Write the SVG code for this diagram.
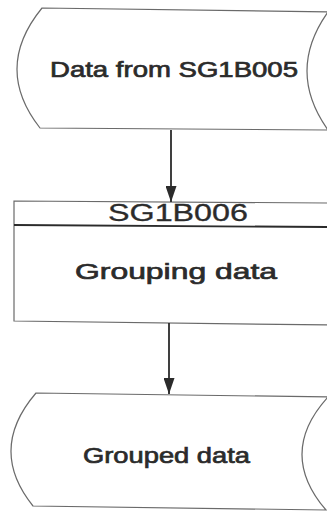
<svg xmlns="http://www.w3.org/2000/svg" width="327" height="516" viewBox="0 0 327 516">
  <style>
    .shape { fill: #ffffff; stroke: #6a6a6a; stroke-width: 1.2; }
    .label { font-family: "Liberation Sans", Arial, sans-serif; fill: #2b2b2b; font-size: 22.5px; stroke: #2b2b2b; stroke-width: 0.7; }
    .thin { stroke-width: 0.3; font-size: 23px; }
    .conn { stroke: #2b2b2b; stroke-width: 1.8; fill: none; }
    .divider { stroke: #2b2b2b; stroke-width: 1.8; }
  </style>
  <defs>
    <marker id="arrow" viewBox="0 0 16 11" refX="16" refY="5.5" markerWidth="16" markerHeight="11" markerUnits="userSpaceOnUse" orient="auto">
      <path d="M0,0 L16,5.5 L0,11 Z" fill="#2b2b2b"/>
    </marker>
  </defs>
  <rect x="0" y="0" width="327" height="516" fill="#ffffff"/>

  <g id="data-from-sg1b005">
    <path class="shape" d="M42,8 L330,12 L328,12 Q286,71 328,130 L330,130 L40,128 Q-7,68 42,8 Z"/>
    <text class="label" x="50" y="77" textLength="248" lengthAdjust="spacingAndGlyphs">Data from SG1B005</text>
  </g>

  <g id="sg1b006">
    <path class="shape" d="M14,201 L330,203 L330,325 L14,321 Z"/>
    <line class="divider" x1="14" y1="225" x2="330" y2="227"/>
    <text class="label thin" x="108" y="221" textLength="140" lengthAdjust="spacingAndGlyphs">SG1B006</text>
    <text class="label" x="75" y="279" textLength="202" lengthAdjust="spacingAndGlyphs">Grouping data</text>
  </g>

  <g id="grouped-data">
    <path class="shape" d="M36,393 L330,397 L328,397 Q277,453 326,510 L33,506 Q-12.5,449.5 36,393 Z"/>
    <text class="label" x="83" y="463" textLength="167" lengthAdjust="spacingAndGlyphs">Grouped data</text>
  </g>

  <g id="connectors">
    <path class="conn" d="M171,130 L171,202" marker-end="url(#arrow)"/>
    <path class="conn" d="M169,323 L169,394" marker-end="url(#arrow)"/>
  </g>
</svg>
